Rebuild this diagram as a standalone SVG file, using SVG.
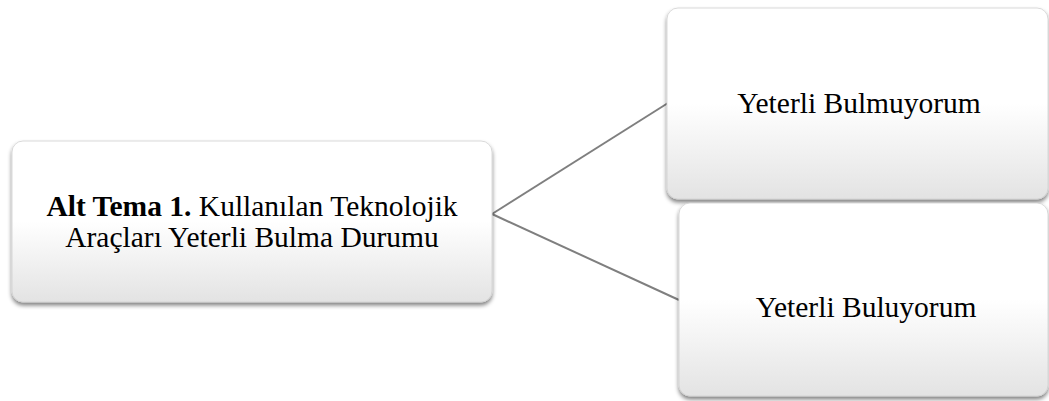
<svg xmlns="http://www.w3.org/2000/svg" width="1049" height="401" viewBox="0 0 1049 401">
<style>
.box{fill:url(#g);stroke:#d0d0d0;stroke-width:0.8;filter:url(#sh)}
.t{font-family:"Liberation Serif","Times New Roman",serif;font-size:29.5px;fill:#000;text-anchor:middle}
.c{stroke:#7f7f7f;stroke-width:2;fill:none}
</style>
<defs>
<linearGradient id="g" x1="0" y1="0" x2="0" y2="1">
<stop offset="0" stop-color="#ffffff"/>
<stop offset="0.5" stop-color="#ffffff"/>
<stop offset="1" stop-color="#e3e3e3"/>
</linearGradient>
<filter id="sh" x="-5%" y="-5%" width="112%" height="115%">
<feGaussianBlur in="SourceAlpha" stdDeviation="2"/>
<feOffset dx="0" dy="3" result="b"/>
<feComponentTransfer><feFuncA type="linear" slope="0.5"/></feComponentTransfer>
<feMerge><feMergeNode/><feMergeNode in="SourceGraphic"/></feMerge>
</filter>
</defs>
<rect width="1049" height="401" fill="#fff"/>
<g id="connectors">
<line class="c" x1="492" y1="214" x2="668" y2="103"/>
<line class="c" x1="492" y1="214" x2="679" y2="300"/>
</g>
<g id="node-main">
<rect class="box" x="12" y="141" width="480" height="161" rx="11"/>
<text class="t" x="252" y="216"><tspan font-weight="bold">Alt Tema 1.</tspan> Kullanılan Teknolojik</text>
<text class="t" x="252" y="247">Araçları Yeterli Bulma Durumu</text>
</g>
<g id="node-bulmuyorum">
<rect class="box" x="667" y="8" width="381" height="191" rx="11"/>
<text class="t" x="859" y="113">Yeterli Bulmuyorum</text>
</g>
<g id="node-buluyorum">
<rect class="box" x="679" y="203" width="369" height="193" rx="11"/>
<text class="t" x="866" y="317">Yeterli Buluyorum</text>
</g>
</svg>
